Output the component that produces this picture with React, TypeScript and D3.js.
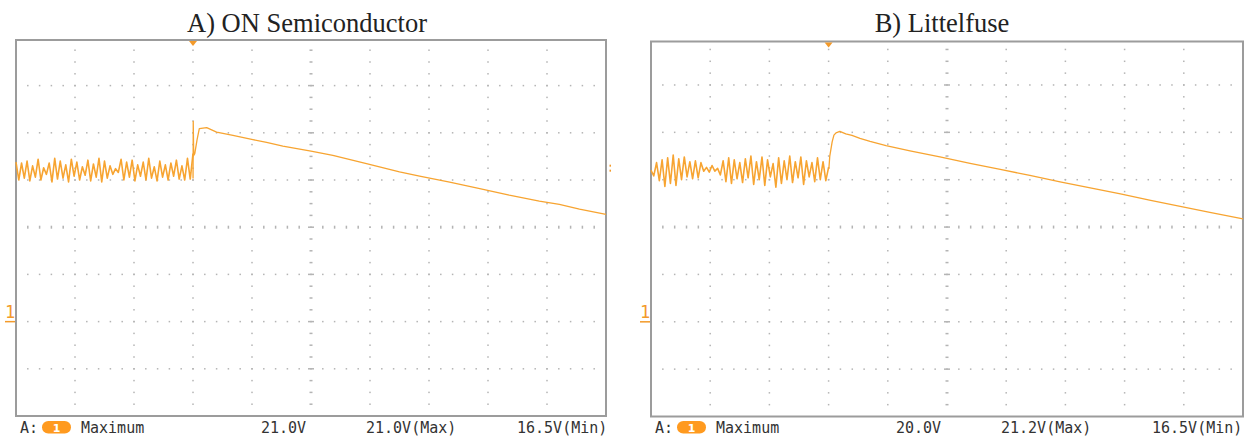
import React from 'react';
import * as d3 from 'd3';

// ---- data ----
const TITLES = ['A) ON Semiconductor', 'B) Littelfuse'];
const TIME_DOMAIN = [-3, 7]; // divisions, trigger at 0
const VOLT_DOMAIN = [-10, 30]; // 5 V/div, channel ground two divisions above bottom
const H_GRID_VOLTS = [-5, 0, 5, 10, 15, 20, 25];
const V_GRID_TIMES = [-2, -1, 0, 1, 2, 3, 4, 5, 6];
const READOUT_A = ['Maximum', '21.0V', '21.0V(Max)', '16.5V(Min)'];
const READOUT_B = ['Maximum', '20.0V', '21.2V(Max)', '16.5V(Min)'];

// pre-trigger ripple (volts), sampled evenly from t=-3 to t=0
const NOISE_A = [
  16.9, 15.0, 16.8, 15.2, 17.0, 14.9, 16.5, 15.3, 17.2, 15.0,
  16.3, 15.6, 16.8, 14.8, 17.3, 15.1, 17.0, 15.2, 16.6, 14.8,
  17.2, 15.4, 16.9, 15.0, 16.4, 15.5, 17.1, 14.9, 16.7, 15.3,
  17.3, 14.8, 17.0, 15.2, 16.5, 15.6, 16.2, 15.8, 17.2, 15.0,
  16.9, 15.3, 17.1, 14.9, 16.6, 15.4, 16.9, 15.0, 17.3, 15.2,
  16.4, 14.9, 17.0, 15.3, 16.6, 15.0, 16.8, 15.4, 17.1, 15.1,
  16.5, 15.0, 17.3, 15.1, 17.8,
];
const RAMP_A_T = [0.001, 0.004, 0.012, 0.03, 0.07, 0.107, 0.232, 0.40, 0.677, 1.015, 1.247, 1.523, 2.0, 2.37, 2.94, 3.50, 3.84, 4.35, 4.86, 5.36, 5.87, 6.21, 6.55, 7.0];
const RAMP_A_V = [15.2, 21.2, 17.6, 17.8, 19.3, 20.44, 20.55, 20.08, 19.73, 19.28, 18.98, 18.6, 18.07, 17.62, 16.74, 15.86, 15.4, 14.77, 14.08, 13.39, 12.76, 12.41, 11.91, 11.35];

const NOISE_B = [
  16.0, 15.4, 16.8, 14.9, 17.1, 14.3, 17.3, 14.6, 17.6, 14.4,
  17.2, 15.0, 17.4, 15.3, 16.9, 15.1, 17.0, 15.2, 16.8, 15.9,
  16.3, 15.8, 16.5, 15.9, 16.2, 15.5, 17.0, 14.8, 17.3, 14.6,
  17.1, 15.1, 16.8, 14.7, 17.2, 15.2, 17.5, 14.5, 16.9, 15.0,
  17.4, 14.4, 17.1, 15.3, 16.7, 14.2, 17.3, 14.6, 17.0, 15.0,
  17.5, 14.7, 16.9, 15.2, 17.4, 14.5, 17.0, 15.3, 16.8, 14.8,
  17.3, 15.0, 16.9, 14.9, 16.3,
];
const RAMP_B_T = [0.005, 0.02, 0.06, 0.09, 0.125, 0.19, 0.29, 0.395, 0.53, 0.70, 0.97, 1.375, 1.88, 2.39, 2.9, 3.4, 3.91, 4.42, 4.93, 5.44, 5.94, 6.44, 7.0];
const RAMP_B_V = [16.2, 17.5, 19.0, 19.7, 19.95, 20.1, 19.84, 19.68, 19.36, 19.05, 18.6, 18.04, 17.41, 16.72, 16.09, 15.45, 14.77, 14.13, 13.5, 12.81, 12.18, 11.54, 10.86];

// ---- styling / layout ----
const TRACE = '#F7A431';
const GRID = '#b4b4b4';
const FRAME = '#9c9c9c';
const MONO = '"DejaVu Sans Mono", "Liberation Mono", monospace';

type PanelCfg = {
  left: number; right: number; top: number; bottom: number; titleX: number;
  title: string; noise: number[]; rampT: number[]; rampV: number[]; readout: string[];
  levelMarker: boolean;
};

const PANELS: PanelCfg[] = [
  { left: 16, right: 606, top: 40, bottom: 416, titleX: 307, title: TITLES[0], noise: NOISE_A, rampT: RAMP_A_T, rampV: RAMP_A_V, readout: READOUT_A, levelMarker: true },
  { left: 651, right: 1243, top: 41.5, bottom: 416.5, titleX: 942, title: TITLES[1], noise: NOISE_B, rampT: RAMP_B_T, rampV: RAMP_B_V, readout: READOUT_B, levelMarker: false },
];

function Panel({ cfg }: { cfg: PanelCfg }) {
  const x = d3.scaleLinear().domain(TIME_DOMAIN).range([cfg.left, cfg.right]);
  const divPx = (cfg.right - cfg.left) / 10;
  const vDivPx = divPx * 0.8;
  const y = d3.scaleLinear().domain(VOLT_DOMAIN).range([cfg.bottom, cfg.bottom - 8 * vDivPx]);

  const n = cfg.noise.length;
  const noisePts: [number, number][] = cfg.noise.map((v, i) => [-3 + (3 * i) / (n - 1), v]);
  const rampPts: [number, number][] = [noisePts[n - 1]];
  cfg.rampT.forEach((t, i) => rampPts.push([t, cfg.rampV[i]]));
  const line = d3.line<[number, number]>().x((d) => x(d[0])).y((d) => y(d[1]));

  const step = divPx / 5; // dot spacing
  const dots: JSX.Element[] = [];
  H_GRID_VOLTS.forEach((v) => {
    const yy = y(v);
    for (let i = 1; i < 50; i++) {
      const xx = cfg.left + i * step;
      const center = v === 10;
      dots.push(<rect key={`h${v}-${i}`} x={xx - 0.75} y={yy - (center && i % 5 !== 0 ? 1.5 : 0.75)} width={1.5} height={center && i % 5 !== 0 ? 3 : 1.5} fill={GRID} />);
    }
  });
  V_GRID_TIMES.forEach((t) => {
    const xx = x(t);
    const yTop = cfg.bottom - 8 * vDivPx;
    for (let j = 1; j < 32; j++) {
      const yy = yTop + j * step;
      if (yy < cfg.top + 2) continue;
      const center = t === 2;
      const onLine = j % 4 === 0;
      if (center && onLine) {
        dots.push(<rect key={`v${t}-${j}`} x={xx - 3} y={yy - 0.75} width={6} height={1.5} fill={GRID} />);
      } else {
        dots.push(<rect key={`v${t}-${j}`} x={xx - (center ? 1.5 : 0.75)} y={yy - 0.75} width={center ? 3 : 1.5} height={1.5} fill={GRID} />);
      }
    }
  });

  const trigX = x(0);
  const gndY = y(0);
  const baseY = 433;

  return (
    <g>
      <text x={cfg.titleX} y={32} textAnchor="middle" fontFamily='"Liberation Serif", "Times New Roman", serif' fontSize={26.5} fill="#222">{cfg.title}</text>
      {dots}
      <rect x={cfg.left} y={cfg.top} width={cfg.right - cfg.left} height={cfg.bottom - cfg.top} fill="none" stroke={FRAME} strokeWidth={2} />
      <path d={line(noisePts) || ''} fill="none" stroke={TRACE} strokeWidth={1.6} strokeLinejoin="round" />
      <path d={line(rampPts) || ''} fill="none" stroke={TRACE} strokeWidth={1.3} strokeLinejoin="round" />
      <path d={`M${trigX - 4},${cfg.top + 1} L${trigX + 4},${cfg.top + 1} L${trigX},${cfg.top + 6} Z`} fill="#F39A2A" />
      <text x={cfg.left - 6} y={gndY - 4} textAnchor="middle" fontFamily={MONO} fontSize={17} fill="#F39A2A">1</text>
      <rect x={cfg.left - 11} y={gndY - 0.7} width={10} height={1.5} fill="#F39A2A" />
      {cfg.levelMarker && (
        <g>
          <rect x={cfg.right + 3.5} y={y(16.2) - 4} width={1.5} height={2} fill="#F39A2A" />
          <rect x={cfg.right + 3.5} y={y(16.2) + 1} width={1.5} height={2} fill="#F39A2A" />
        </g>
      )}
      <text x={cfg.left + 4} y={baseY} fontFamily={MONO} fontSize={15} fill="#333">A:</text>
      <rect x={cfg.left + 26} y={421} width={29} height={12.5} rx={6.25} fill="#FF9A1F" />
      <text x={cfg.left + 40.5} y={431.5} textAnchor="middle" fontFamily='"DejaVu Sans", sans-serif' fontWeight="bold" fontSize={11} fill="#fff">1</text>
      <text x={cfg.left + 65} y={baseY} fontFamily={MONO} fontSize={15} fill="#333">{cfg.readout[0]}</text>
      <text x={cfg.left + 245} y={baseY} fontFamily={MONO} fontSize={15} fill="#333">{cfg.readout[1]}</text>
      <text x={cfg.left + 350} y={baseY} fontFamily={MONO} fontSize={15} fill="#333">{cfg.readout[2]}</text>
      <text x={cfg.left + 501} y={baseY} fontFamily={MONO} fontSize={15} fill="#333">{cfg.readout[3]}</text>
    </g>
  );
}

export default function App() {
  return (
    <svg width={1252} height={437} style={{ position: 'absolute', left: 0, top: 0, background: '#fff' }}>
      <rect x={0} y={0} width={1252} height={437} fill="#fff" />
      {PANELS.map((p, i) => <Panel key={i} cfg={p} />)}
    </svg>
  );
}
